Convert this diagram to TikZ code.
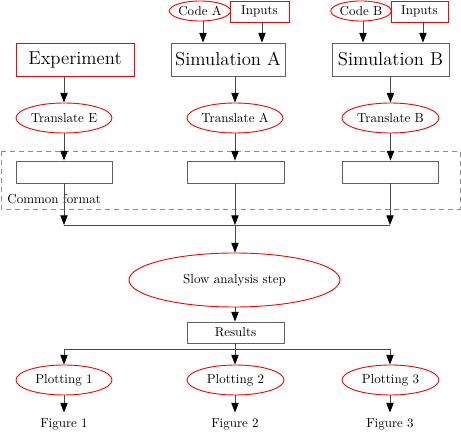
\documentclass[tikz,border=0pt]{standalone}
\usetikzlibrary{arrows.meta,shapes.geometric}
\newlength\pxu
\setlength\pxu{0.77pt}
\tikzset{
  base/.style={inner sep=0pt, line width=0.9\pxu, font=\fontsize{10}{12}\selectfont},
  bigfont/.style={font=\fontsize{14.4}{17}\selectfont},
  redbox/.style={base, rectangle, draw=red},
  greybox/.style={base, rectangle, draw=black!62},
  redell/.style={base, ellipse, draw=red},
  plain/.style={base},
  conn/.style={draw=black!72, line width=0.9\pxu, -{Triangle[length=7.4pt,width=5.6pt,color=black]}},
  seg/.style={draw=black!72, line width=0.9\pxu},
  framebox/.style={draw=black!45, dash pattern=on 3.85pt off 3.1pt, line width=0.9\pxu}
}
\begin{document}
\begin{tikzpicture}[x=\pxu,y=-\pxu]
\useasboundingbox (0,0) rectangle (461,434);
% top row
\node[redell, minimum width=58\pxu, minimum height=20\pxu] (codeA) at (200,11) {Code A};
\node[redbox, minimum width=59\pxu, minimum height=21\pxu] (inA) at (259.5,11.5) {Inputs};
\node[redell, minimum width=58\pxu, minimum height=20\pxu] (codeB) at (361,11) {Code B};
\node[redbox, minimum width=57\pxu, minimum height=21\pxu] (inB) at (419.5,11.5) {Inputs};
% sources
\node[redbox, bigfont, minimum width=118\pxu, minimum height=33\pxu] (exp) at (75,59.5) {Experiment};
\node[greybox, bigfont, minimum width=114\pxu, minimum height=33\pxu] (simA) at (228,59.5) {Simulation A};
\node[greybox, bigfont, minimum width=117\pxu, minimum height=33\pxu] (simB) at (390.5,59.5) {Simulation B};
% translators
\node[redell, minimum width=96\pxu, minimum height=30\pxu] (trE) at (64,118) {Translate E};
\node[redell, minimum width=96\pxu, minimum height=30\pxu] (trA) at (235,118) {Translate A};
\node[redell, minimum width=97\pxu, minimum height=30\pxu] (trB) at (390.5,118) {Translate B};
% common format
\draw[framebox] (1,151) rectangle (460,209);
\node[plain, anchor=base west] (cf) at (7,204) {Common format};
\node[greybox, minimum width=96\pxu, minimum height=22\pxu] (fE) at (64,172) {};
\node[greybox, minimum width=97\pxu, minimum height=22\pxu] (fA) at (235.5,172) {};
\node[greybox, minimum width=96\pxu, minimum height=22\pxu] (fB) at (390,172) {};
% arrow columns
\coordinate (xa1) at (203,0);
\coordinate (xa2) at (262,0);
\coordinate (xb1) at (363,0);
\coordinate (xb2) at (423,0);
% join
\coordinate (jE) at (64,225);
\coordinate (jA) at (235,225);
\coordinate (jB) at (390,225);
\node[redell, minimum width=211\pxu, minimum height=54\pxu] (slow) at (234.5,280) {Slow analysis step};
\node[greybox, minimum width=97\pxu, minimum height=21\pxu] (res) at (235.5,332.5) {Results};
\coordinate (bE) at (64,349);
\coordinate (bA) at (235,349);
\coordinate (bB) at (390,349);
\node[redell, minimum width=96\pxu, minimum height=30\pxu] (p1) at (64,380) {Plotting 1};
\node[redell, minimum width=97\pxu, minimum height=30\pxu] (p2) at (235.5,380) {Plotting 2};
\node[redell, minimum width=97\pxu, minimum height=30\pxu] (p3) at (390.5,380) {Plotting 3};
\node[plain, minimum height=22\pxu] (f1) at (64,424) {Figure 1};
\node[plain, minimum height=22\pxu] (f2) at (235,424) {Figure 2};
\node[plain, minimum height=22\pxu] (f3) at (390,424) {Figure 3};
% connectors
\draw[conn] (codeA.south -| xa1) -- (simA.north -| xa1);
\draw[conn] (inA.south -| xa2) -- (simA.north -| xa2);
\draw[conn] (codeB.south -| xb1) -- (simB.north -| xb1);
\draw[conn] (inB.south -| xb2) -- (simB.north -| xb2);
\draw[conn] (exp.south -| trE) -- (trE.north);
\draw[conn] (simA.south -| trA) -- (trA.north);
\draw[conn] (simB.south -| trB) -- (trB.north);
\draw[conn] (trE.south) -- (fE.north -| trE);
\draw[conn] (trA.south) -- (fA.north -| trA);
\draw[conn] (trB.south) -- (fB.north -| trB);
\draw[conn] (fE.south -| jE) -- (jE);
\draw[conn] (fA.south -| jA) -- (jA);
\draw[conn] (fB.south -| jB) -- (jB);
\draw[seg] (jE) -- (jB);
\draw[conn] (jA) -- (slow.north -| jA);
\draw[conn] (slow.south -| jA) -- (res.north -| jA);
\draw[seg] (res.south -| bA) -- (bA);
\draw[seg] (bE) -- (bB);
\draw[conn] (bE) -- (p1.north -| bE);
\draw[conn] (bA) -- (p2.north -| bA);
\draw[conn] (bB) -- (p3.north -| bB);
\draw[conn] (p1.south) -- (f1.north);
\draw[conn] (p2.south -| f2) -- (f2.north);
\draw[conn] (p3.south -| f3) -- (f3.north);
\end{tikzpicture}
\end{document}
